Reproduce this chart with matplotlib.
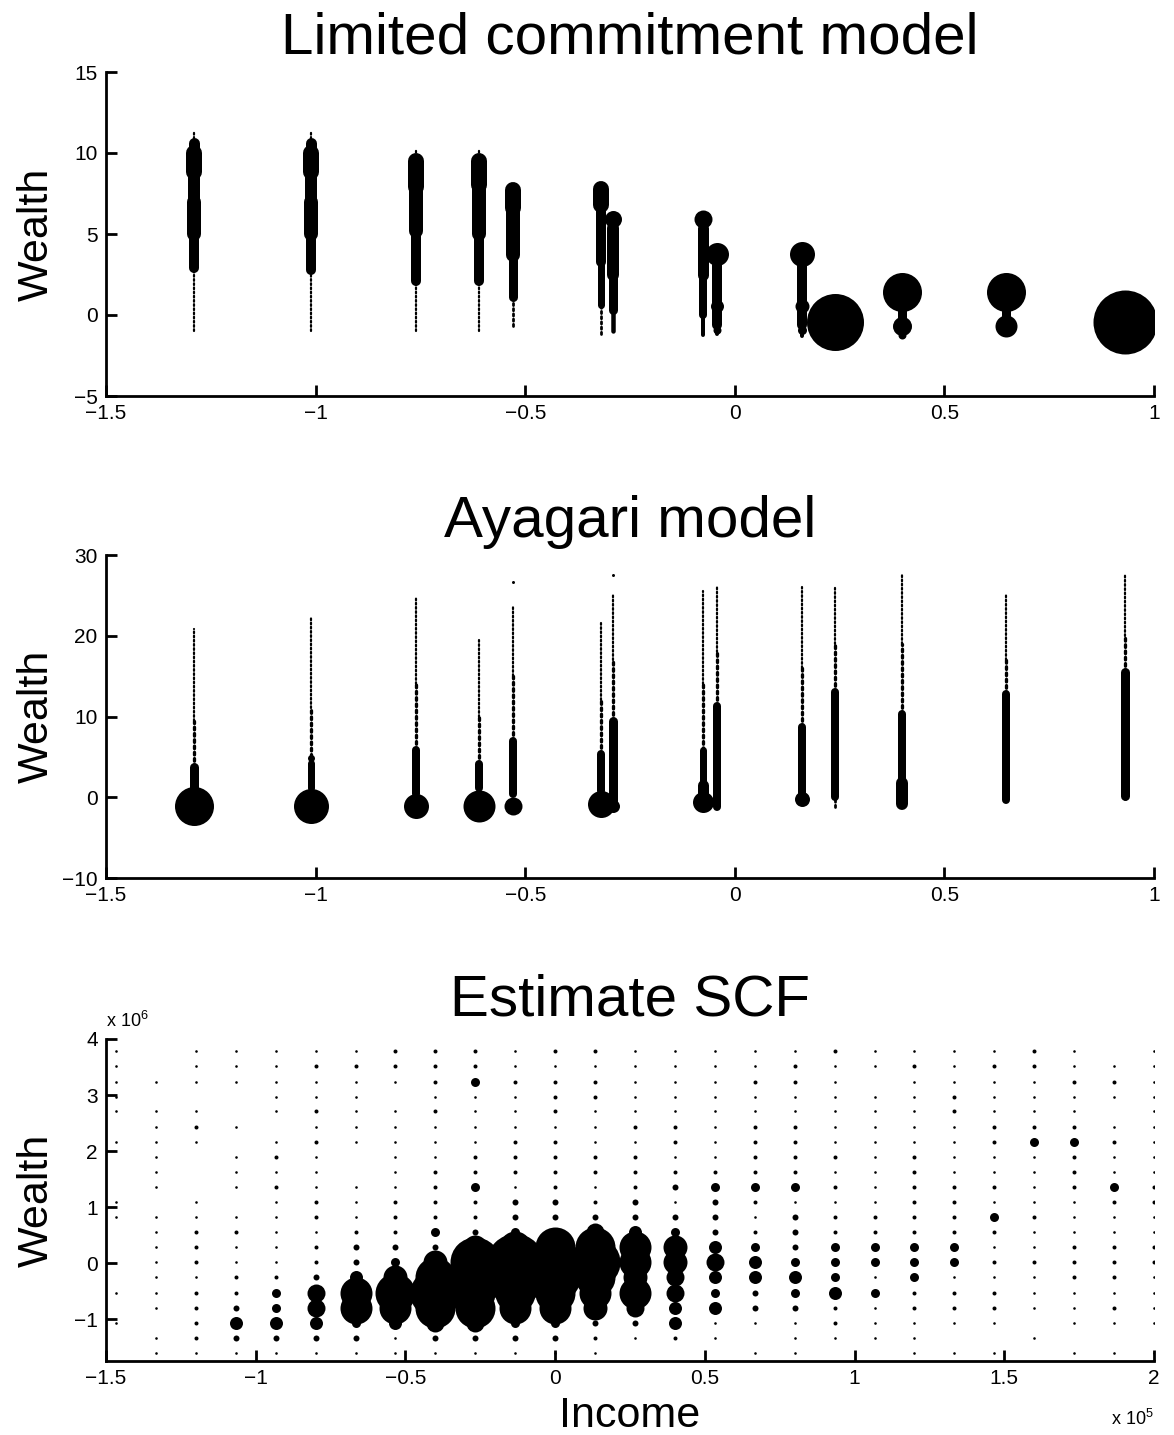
import matplotlib
matplotlib.use("Agg")
import matplotlib.pyplot as plt
from matplotlib.ticker import FuncFormatter

plt.rcParams['font.family'] = ['Liberation Sans', 'DejaVu Sans']
plt.rcParams['mathtext.fontset'] = 'custom'
plt.rcParams['mathtext.rm'] = 'Liberation Sans'

# income levels used by both models (log deviation)
income_grid = [-1.29, -1.01, -0.76, -0.61, -0.53, -0.32, -0.29,
               -0.076, -0.043, 0.16, 0.24, 0.40, 0.648, 0.93]

# wealth profile per income level: (wealth from, wealth to, dot diameter px)
lc_wealth = [
    [(-1.0, 2.9, 2), (2.9, 5.0, 10), (5.0, 7.0, 14), (7.0, 8.8, 12), (8.8, 10.0, 16), (10.0, 10.6, 11), (10.6, 11.3, 2)],
    [(-1.0, 2.8, 2), (2.8, 5.0, 10), (5.0, 7.0, 14), (7.0, 8.8, 12), (8.8, 10.0, 16), (10.0, 10.6, 11), (10.6, 11.3, 2)],
    [(-1.0, 2.1, 2), (2.1, 5.2, 10), (5.2, 7.9, 14), (7.9, 9.5, 16), (9.5, 10.2, 2)],
    [(-1.0, 2.1, 2), (2.1, 5.0, 10), (5.0, 8.0, 14), (8.0, 9.5, 16), (9.5, 10.2, 2)],
    [(-0.7, 1.1, 2.5), (1.1, 3.7, 9), (3.7, 6.6, 14), (6.6, 7.7, 16)],
    [(-1.2, 0.6, 2.5), (0.6, 3.3, 7), (3.3, 6.8, 10), (6.8, 7.8, 16)],
    [(-1.0, 0.3, 4.5), (0.3, 2.5, 9), (2.5, 5.4, 12), (5.9, 5.9, 17)],
    [(-1.26, 0.0, 4), (0.0, 2.5, 8), (2.5, 5.4, 11), (5.9, 5.9, 18)],
    [(-1.2, -0.6, 4), (-0.9, -0.9, 8), (-0.6, 3.1, 10), (0.55, 0.55, 13), (3.74, 3.74, 23)],
    [(-1.3, -0.9, 4), (-0.9, -0.9, 9), (-0.6, 3.1, 10), (0.55, 0.55, 14), (3.74, 3.74, 25)],
    [(-0.43, -0.43, 57)],
    [(1.4, 1.4, 39), (-0.66, 0.6, 9), (-0.66, -0.66, 19), (-1.26, -1.26, 8)],
    [(1.4, 1.4, 39), (-0.66, 0.6, 9), (-0.66, -0.66, 22)],
    [(-0.43, -0.43, 64)],
]

ay_wealth = [
    [(-1.03, -1.03, 39), (1.2, 3.7, 9), (3.7, 9.5, 3), (9.5, 20.8, 2)],
    [(-1.03, -1.03, 35), (1.2, 4.3, 7), (4.9, 4.9, 7), (4.3, 11.0, 3), (11.0, 22.3, 2)],
    [(-1.03, -1.03, 25), (0.4, 5.8, 8), (5.8, 14.0, 3), (14.0, 24.7, 2)],
    [(-1.03, -1.03, 32), (1.2, 4.1, 8), (4.1, 10.0, 3), (10.0, 19.6, 2)],
    [(-1.03, -1.03, 18), (0.4, 7.0, 8), (7.0, 15.0, 3), (15.0, 23.5, 2), (26.6, 26.6, 3)],
    [(-0.8, -0.8, 27), (0.8, 5.4, 8), (5.4, 12.0, 3), (12.0, 21.6, 2)],
    [(-1.03, -1.03, 13), (-0.8, 9.5, 9), (9.5, 17.0, 3), (17.0, 25.0, 2), (27.5, 27.5, 3)],
    [(-0.6, -0.6, 21), (0.0, 1.5, 11), (1.2, 5.8, 7), (5.8, 14.0, 3), (14.0, 25.6, 2)],
    [(-1.2, 11.3, 8), (11.3, 18.0, 3), (18.0, 26.2, 2)],
    [(-0.2, -0.2, 15), (0.4, 8.7, 8), (8.7, 16.0, 3), (16.0, 26.0, 2)],
    [(-1.2, -0.2, 2.5), (0.0, 13.0, 8), (13.0, 19.0, 3), (19.0, 26.0, 2)],
    [(-0.8, 1.8, 12), (1.8, 10.3, 8), (10.3, 19.0, 3), (19.0, 27.6, 2)],
    [(-0.4, 12.8, 8), (12.8, 17.0, 3), (17.0, 25.0, 2)],
    [(-0.2, 0.2, 2.5), (0.2, 15.5, 9), (15.5, 20.0, 3), (20.0, 27.6, 2)],
]

# SCF estimate: income bins, wealth bins and dot size class per cell
scf_income = [-146667, -133333, -120000, -106667, -93333, -80000, -66667,
              -53333, -40000, -26667, -13333, 0, 13333, 26667, 40000,
              53333, 66667, 80000, 93333, 106667, 120000, 133333, 146667,
              160000, 173333, 186667, 200000]
scf_wealth = [3.78e6, 3.51e6, 3.24e6, 2.97e6, 2.71e6, 2.44e6, 2.17e6,
              1.90e6, 1.63e6, 1.36e6, 1.09e6, 0.83e6, 0.56e6, 0.29e6,
              0.02e6, -0.25e6, -0.52e6, -0.79e6, -1.06e6, -1.33e6, -1.59e6]
# one string per income bin, top wealth bin first
scf_size = [
    "111110100011000010100",
    "001011111101111111011",
    "111012100011222122221",
    "111001011101211223531",
    "111110121211111244531",
    "121121211122122366531",
    "121111100111233588431",
    "221011111122234798511",
    "2221211122224379A9631",
    "22411112242237AA99631",
    "11211122213348BB98431",
    "21222122223349AA98431",
    "21221112212369A987321",
    "111112122233588786310",
    "111112212313477665520",
    "111111112433356545110",
    "112112222421245533101",
    "122112222413334543111",
    "211111121212244452210",
    "110111111112244141110",
    "121111122222244422111",
    "111221111222244122101",
    "121112211214212122101",
    "221112411112112111010",
    "112112422211122211101",
    "012101211421122212101",
    "111111111221122111101",
]
size_px = {'0': 0, '1': 2.6, '2': 4, '3': 6, '4': 9, '5': 13, '6': 18,
           '7': 24, '8': 32, '9': 40, 'A': 50, 'B': 57}

W, H = 1174, 1435
fig = plt.figure(figsize=(W / 100, H / 100), dpi=100)


def pt(d):
    return d * 0.72


def num(v, scale=1):
    return f"{v / scale:g}".replace('-', '\u2212')


def style(ax):
    ax.spines['top'].set_visible(False)
    ax.spines['right'].set_visible(False)
    ax.spines['left'].set_linewidth(2)
    ax.spines['bottom'].set_linewidth(2)
    ax.tick_params(direction='in', length=8, width=2, labelsize=15, pad=6)


def columns(ax, xs, profiles):
    # dotted tails first, thick parts on top
    for x, prof in zip(xs, profiles):
        for lo, hi, d in prof:
            if d <= 3 and lo != hi:
                ax.plot([x, x], [lo, hi], color='k', lw=pt(d) * 1.1,
                        linestyle=(0, (0.8, 1.1)), dash_capstyle='round')
    for x, prof in zip(xs, profiles):
        for lo, hi, d in prof:
            if lo == hi:
                ax.scatter([x], [lo], s=pt(d) ** 2, color='k', lw=0, zorder=3)
            elif d > 3:
                ax.plot([x, x], [lo, hi], color='k', lw=pt(d),
                        solid_capstyle='round', zorder=3)


L, Wd = 106 / W, 1048 / W

ax1 = fig.add_axes([L, 1 - 396 / H, Wd, 324 / H])
columns(ax1, income_grid, lc_wealth)
ax1.set_xlim(-1.5, 1)
ax1.set_ylim(-5, 15)
ax1.set_xticks([-1.5, -1, -0.5, 0, 0.5, 1])
ax1.set_yticks([-5, 0, 5, 10, 15])
ax1.set_title("Limited commitment model", fontsize=42, pad=13)
ax1.set_ylabel("Wealth", fontsize=31)
style(ax1)

ax2 = fig.add_axes([L, 1 - 878 / H, Wd, 323 / H])
columns(ax2, income_grid, ay_wealth)
ax2.set_xlim(-1.5, 1)
ax2.set_ylim(-10, 30)
ax2.set_xticks([-1.5, -1, -0.5, 0, 0.5, 1])
ax2.set_yticks([-10, 0, 10, 20, 30])
ax2.set_title("Ayagari model", fontsize=42, pad=13)
ax2.set_ylabel("Wealth", fontsize=31)
style(ax2)

ax3 = fig.add_axes([L, 1 - 1361 / H, Wd, 322 / H])
for x, col in zip(scf_income, scf_size):
    for w, c in zip(scf_wealth, col):
        if size_px[c] > 0:
            ax3.scatter([x], [w], s=pt(size_px[c]) ** 2, color='k', lw=0)
ax3.set_xlim(-1.5e5, 2e5)
ax3.set_ylim(-1.74e6, 4e6)
ax3.set_xticks([-1.5e5, -1e5, -0.5e5, 0, 0.5e5, 1e5, 1.5e5, 2e5])
ax3.set_yticks([-1e6, 0, 1e6, 2e6, 3e6, 4e6])
ax3.xaxis.set_major_formatter(FuncFormatter(lambda v, p: num(v, 1e5)))
ax3.yaxis.set_major_formatter(FuncFormatter(lambda v, p: num(v, 1e6)))
ax3.set_title("Estimate SCF", fontsize=42, pad=17)
ax3.set_ylabel("Wealth", fontsize=31)
ax3.set_xlabel("Income", fontsize=31)
ax3.xaxis.set_label_coords(0.5, -0.205)
ax3.xaxis.label.set_verticalalignment('baseline')
ax3.text(0, 1.038, "x 10$^6$", transform=ax3.transAxes, fontsize=13, ha='left', va='baseline')
ax3.text(1, -0.2, "x 10$^5$", transform=ax3.transAxes, fontsize=13, ha='right', va='baseline')
style(ax3)

for ax in (ax1, ax2):
    ax.xaxis.set_major_formatter(FuncFormatter(lambda v, p: num(v)))
    ax.yaxis.set_major_formatter(FuncFormatter(lambda v, p: num(v)))

for ax in (ax1, ax2, ax3):
    ax.yaxis.set_label_coords(-0.047, 0.5)

fig.savefig("out.png", dpi=100)
